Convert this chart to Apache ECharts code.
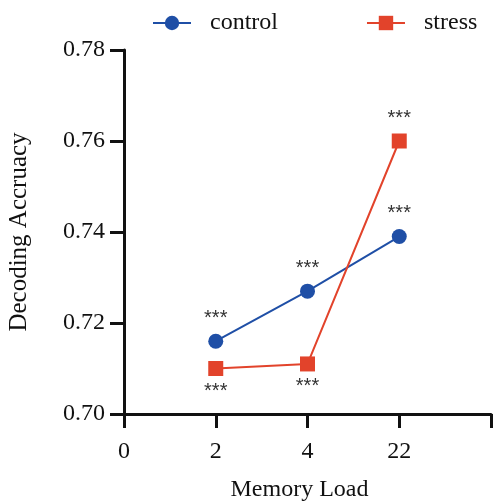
<!DOCTYPE html>
<html>
<head>
<meta charset="utf-8">
<script src="https://cdn.jsdelivr.net/npm/echarts@6/dist/echarts.min.js"></script>
<style>html,body{margin:0;padding:0;background:#fff}#c{width:493px;height:501px}</style>
</head>
<body>
<div id="c"></div>
<script>
var categories = ["0", "2", "4", "22", ""];
var controlValues = [null, 0.716, 0.727, 0.739];
var stressValues = [null, 0.710, 0.711, 0.760];
var controlSig = ["", "***", "***", "***"];
var stressSig = ["", "***", "***", "***"];
var stressLabelBelow = [false, true, true, false];

var FONT = "Liberation Serif";
var chart = echarts.init(document.getElementById('c'), null, {renderer: 'canvas'});

function buildData(vals, sig, below) {
  return vals.map(function (v, i) {
    if (v === null) return null;
    var isBelow = below && below[i];
    return {
      value: v,
      label: {
        show: true,
        formatter: sig[i],
        position: 'inside',
        offset: [0, isBelow ? 23 : -23],
        fontSize: 20,
        color: '#333',
        fontFamily: 'Liberation Sans'
      }
    };
  });
}

chart.setOption({
  animation: false,
  legend: {
    left: 147,
    top: 6,
    itemWidth: 38,
    itemHeight: 18,
    itemGap: 88,
    textStyle: {fontFamily: FONT, fontSize: 24, color: '#111', padding: [0, 0, 0, 14]},
    data: ['control', 'stress']
  },
  grid: {left: 124, right: 2, top: 50, bottom: 87, containLabel: false, outerBoundsMode: 'none'},
  xAxis: {
    type: 'category',
    data: categories,
    boundaryGap: false,
    name: 'Memory Load',
    nameLocation: 'middle',
    nameGap: 64,
    nameTextStyle: {fontFamily: FONT, fontSize: 24, color: '#111', padding: [0, 16, 0, 0]},
    axisLine: {lineStyle: {color: '#111', width: 3}},
    axisTick: {show: true, length: 14, lineStyle: {color: '#111', width: 3}, alignWithLabel: true},
    axisLabel: {fontFamily: FONT, fontSize: 24, color: '#111', margin: 26},
    splitLine: {show: false}
  },
  yAxis: {
    type: 'value',
    min: 0.70,
    max: 0.78,
    interval: 0.02,
    name: 'Decoding Accruacy',
    nameLocation: 'middle',
    nameGap: 92,
    nameTextStyle: {fontFamily: FONT, fontSize: 25, color: '#111'},
    axisLine: {show: true, lineStyle: {color: '#111', width: 3}},
    axisTick: {show: true, length: 14, lineStyle: {color: '#111', width: 3}},
    axisLabel: {fontFamily: FONT, fontSize: 24, color: '#111', margin: 19,
      formatter: function (v) { return v.toFixed(2); }},
    splitLine: {show: false}
  },
  series: [
    {
      name: 'control',
      type: 'line',
      data: buildData(controlValues, controlSig, null),
      symbol: 'circle',
      symbolSize: 15,
      itemStyle: {color: '#1F4FA6'},
      lineStyle: {color: '#1F4FA6', width: 2}
    },
    {
      name: 'stress',
      type: 'line',
      data: buildData(stressValues, stressSig, stressLabelBelow),
      symbol: 'rect',
      symbolSize: 15,
      itemStyle: {color: '#E2432B'},
      lineStyle: {color: '#E2432B', width: 2}
    }
  ]
});
</script>
</body>
</html>
